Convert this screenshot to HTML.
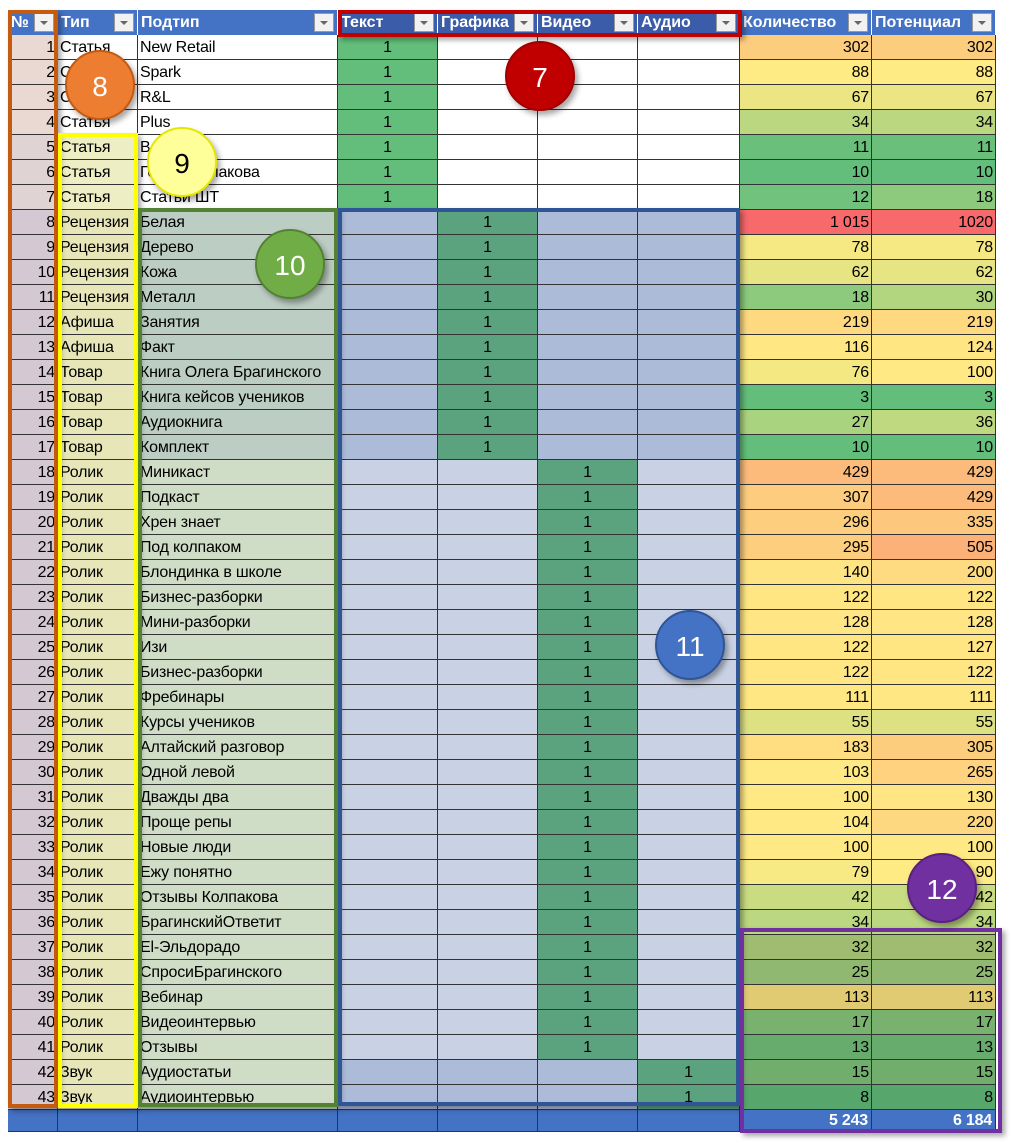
<!DOCTYPE html>
<html><head><meta charset="utf-8"><style>
body{margin:0;width:1012px;height:1147px;background:#fff;position:relative;overflow:hidden;font-family:"Liberation Sans",Arial,sans-serif}
.c{position:absolute;box-sizing:border-box;border-right:1px solid #333;border-bottom:1px solid #333;font-size:16px;line-height:26px;height:25px;white-space:nowrap;overflow:hidden;color:#000;letter-spacing:-0.2px}
.h{position:absolute;box-sizing:border-box;background:#4472c4;color:#fff;font-weight:bold;font-size:16px;line-height:26px;height:25px;padding-left:3px;border-right:1px solid #fff}
.dd{position:absolute;right:3px;top:3px;width:20px;height:19px;background:#f2f2f2;border:1px solid #999;box-sizing:border-box}
.dd:after{content:"";position:absolute;left:5px;top:7px;border-left:4px solid transparent;border-right:4px solid transparent;border-top:4px solid #666}
.r{position:absolute;box-sizing:border-box;box-shadow:3px 3px 5px rgba(0,0,0,.35)}
.o{position:absolute;border-radius:50%;color:#fff;font-size:28px;text-align:center;box-shadow:3px 4px 6px rgba(0,0,0,.35)}
</style></head><body>
<div id="t"></div>
<script>
const X=[8,58,138,338,438,538,638,740,872,996];
const H=["№","Тип","Подтип","Текст","Графика","Видео","Аудио","Количество","Потенциал"];
let s="";
for(let i=0;i<9;i++){let bg=(i>=3&&i<=6)?"#3b5ca8":"#4472c4";s+=`<div class="h" style="left:${X[i]}px;top:10px;width:${X[i+1]-X[i]}px;background:${bg}">${H[i]}<div class="dd"></div></div>`;}
const D=[["Статья","New Retail",0,302,302],["Статья","Spark",0,88,88],["Статья","R&L",0,67,67],["Статья","Plus",0,34,34],["Статья","В",0,11,11],["Статья","Гость Колпакова",0,10,10],["Статья","Статьи ШТ",0,12,18],
["Рецензия","Белая",1,1015,1020],["Рецензия","Дерево",1,78,78],["Рецензия","Кожа",1,62,62],["Рецензия","Металл",1,18,30],["Афиша","Занятия",1,219,219],["Афиша","Факт",1,116,124],["Товар","Книга Олега Брагинского",1,76,100],["Товар","Книга кейсов учеников",1,3,3],["Товар","Аудиокнига",1,27,36],["Товар","Комплект",1,10,10],
["Ролик","Миникаст",2,429,429],["Ролик","Подкаст",2,307,429],["Ролик","Хрен знает",2,296,335],["Ролик","Под колпаком",2,295,505],["Ролик","Блондинка в школе",2,140,200],["Ролик","Бизнес-разборки",2,122,122],["Ролик","Мини-разборки",2,128,128],["Ролик","Изи",2,122,127],["Ролик","Бизнес-разборки",2,122,122],["Ролик","Фребинары",2,111,111],["Ролик","Курсы учеников",2,55,55],["Ролик","Алтайский разговор",2,183,305],["Ролик","Одной левой",2,103,265],["Ролик","Дважды два",2,100,130],["Ролик","Проще репы",2,104,220],["Ролик","Новые люди",2,100,100],["Ролик","Ежу понятно",2,79,90],["Ролик","Отзывы Колпакова",2,42,42],["Ролик","БрагинскийОтветит",2,34,34],["Ролик","El-Эльдорадо",2,32,32],["Ролик","СпросиБрагинского",2,25,25],["Ролик","Вебинар",2,113,113],["Ролик","Видеоинтервью",2,17,17],["Ролик","Отзывы",2,13,13],
["Звук","Аудиостатьи",3,15,15],["Звук","Аудиоинтервью",3,8,8]];
function mix(a,b,t){return a.map((v,i)=>Math.round(v+(b[i]-v)*t));}
const G=[99,190,123],Y=[255,235,132],R=[248,105,107];
function col(v,dim){let c;if(v<=88){let t=(Math.log10(Math.max(v,10))-1)/(Math.log10(88)-1);c=mix(G,Y,Math.max(0,Math.min(1,t)));}else{let t=(v-88)/(1015-88);c=mix(Y,R,Math.min(1,t));}
if(dim)c=c.map(x=>Math.round(x*0.88));return `rgb(${c})`;}
function fmt(v){return v>=1000&&v!=1020?String(v).replace(/\B(?=(\d{3})+$)/," "):String(v);}
D.forEach((d,k)=>{const n=k+1,y=35+25*k;
const cell=(i,bg,txt,al)=>{s+=`<div class="c" style="left:${X[i]}px;top:${y}px;width:${X[i+1]-X[i]}px;background:${bg};text-align:${al||'left'};padding:0 2px">${txt}</div>`;};
cell(0,n<=4?"#ead9d2":(n<=7?"#e0d3d3":"#d4c8d2"),n,"right");
cell(1,n<=4?"#fff":(n<=7?"#eeeec4":"#e6e6b8"),d[0]);
cell(2,n<=7?"#fff":(n<=17?"#bccdc3":"#cfdcc6"),d[1]);
for(let j=0;j<4;j++){let bg;if(n<=7)bg=j==0?"#63be7b":"#fff";else{bg=(n<=17||n>=42)?"#abbbd8":"#c9d2e4";if(j==d[2])bg="#5aa37e";}
cell(3+j,bg,(j==d[2])?"1":"","center");}
const dim=n>=37;cell(7,col(d[3],dim),fmt(d[3]),"right");cell(8,col(d[4],dim),fmt(d[4]),"right");});
for(let i=0;i<9;i++){s+=`<div class="c" style="left:${X[i]}px;top:1110px;width:${X[i+1]-X[i]}px;height:22px;background:#4472c4;color:#fff;font-weight:bold;text-align:right;padding:0 3px;line-height:22px">${i==7?"5 243":i==8?"6 184":""}</div>`;}
const rects=[[8,10,50,1098,"#c55a11"],[58,133,80,975,"#ffff00"],[138,208,200,899,"#548235"],[338,208,402,898,"#2f5597"],[740,928,262,205,"#7030a0"],[338,10,404,27,"#c00000"]];
rects.forEach(r=>{s+=`<div class="r" style="left:${r[0]}px;top:${r[1]}px;width:${r[2]}px;height:${r[3]}px;border:4px solid ${r[4]}"></div>`;});
const circ=[[100,85,"8","#ed7d31","#c55a11","#fff"],[182,162,"9","#ffff99","#e6e600","#000"],[290,264,"10","#70ad47","#548235","#fff"],[540,76,"7","#c00000","#a00000","#fff"],[690,645,"11","#4472c4","#2f5597","#fff"],[942,888,"12","#7030a0","#5a2080","#fff"]];
circ.forEach(c=>{s+=`<div class="o" style="left:${c[0]-35}px;top:${c[1]-35}px;width:70px;height:70px;line-height:70px;background:${c[3]};border:2px solid ${c[4]};box-sizing:border-box;color:${c[5]}">${c[2]}</div>`;});
document.getElementById("t").innerHTML=s;
</script>
</body></html>
